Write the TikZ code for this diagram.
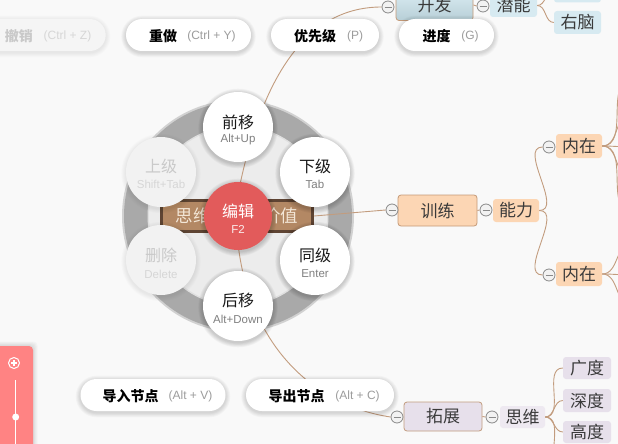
\documentclass[tikz,border=0pt]{standalone}
\usepackage{fontspec}
\setmainfont{Liberation Sans}
\newfontfamily\cjk{Noto Sans CJK SC}
\definecolor{bgc}{HTML}{F9F9F9}
\definecolor{linkc}{HTML}{C29C7E}
\definecolor{peach}{HTML}{FCD6B4}
\definecolor{peachb}{HTML}{C49A78}
\definecolor{lav}{HTML}{E7E0EB}
\definecolor{lavb}{HTML}{C29C7E}
\definecolor{blueA}{HTML}{DCEDF3}
\definecolor{blueB}{HTML}{B7CFD7}
\definecolor{blueL}{HTML}{D7EAF1}
\definecolor{redc}{HTML}{E25B5B}
\definecolor{ringc}{HTML}{A9A9A9}
\definecolor{diskc}{HTML}{ECECEC}
\definecolor{rootf}{HTML}{B38864}
\definecolor{rootb}{HTML}{5E4433}
\definecolor{roott}{HTML}{F3E6D6}
\definecolor{sliderc}{HTML}{FF8383}
\definecolor{keyc}{HTML}{9C9C9C}
\definecolor{fadec}{HTML}{C9C9C9}
\definecolor{fadesub}{HTML}{D6D6D6}
\definecolor{mmtext}{HTML}{3A3A3A}
\definecolor{colline}{HTML}{8A8A8A}
\definecolor{colfill}{HTML}{F2F2F2}
% soft shadow helpers
\newcommand\softcirc[4]{% x, y, radius, opacity
  \foreach \k in {1,...,6}{\pgfmathsetmacro\rr{#3+0.8*\k}\fill[black, opacity=#4] (#1,#2+1.5) circle (\rr);}}
\newcommand\softpill[5]{% x1, y1, x2, y2, opacity
  \foreach \k in {1,...,6}{\pgfmathsetmacro\dd{0.8*\k}\pgfmathsetmacro\rc{16+0.8*\k}%
    \fill[black, opacity=#5, rounded corners=\rc pt] (#1-\dd,#2-\dd+1.5) rectangle (#3+\dd,#4+\dd+1.5);}}
\begin{document}
\begin{tikzpicture}[x=1pt,y=-1pt,
  link/.style={draw=linkc, line width=0.9pt},
  mm/.style={inner sep=0pt, rounded corners=3pt, text=mmtext, font=\cjk\fontsize{17}{20}\selectfont},
  colc/.style={circle, draw=colline, fill=colfill, line width=0.8pt, minimum size=12pt, inner sep=0pt,
    path picture={\draw[colline, line width=0.9pt] ([xshift=-3.5pt]path picture bounding box.center) -- ([xshift=3.5pt]path picture bounding box.center);}},
  pill/.style={rounded corners=16pt, fill=white, minimum height=32pt, inner sep=0pt},
  pkey/.style={inner sep=0pt, text=black, font=\cjk\bfseries\fontsize{14}{16}\selectfont},
  pshort/.style={inner sep=0pt, text=keyc, font=\fontsize{12}{14}\selectfont},
  wcirc/.style={circle, fill=white, minimum size=70pt, inner sep=0pt},
  fcirc/.style={circle, fill=white!95!black, minimum size=70pt, inner sep=0pt},
  wmain/.style={inner sep=0pt, text=black!90, font=\cjk\fontsize{16}{18}\selectfont},
  wsub/.style={inner sep=0pt, text=black!50, font=\fontsize{11.5}{13}\selectfont},
]
\useasboundingbox (0,0) rectangle (618,444);
% ---------- background and wheel ring ----------
\fill[bgc] (0,0) rectangle (618,444);
\fill[ringc!50!bgc] (238,216) circle (116);
\fill[ringc] (238,216) circle (114);
\fill[diskc!80!ringc] (238,216) circle (90.5);
\fill[diskc] (238,216) circle (89);

% ---------- mind map nodes ----------
\node[draw=rootb, line width=3pt, fill=rootf, minimum width=151pt, minimum height=31pt, inner sep=0pt,
      text=roott, font=\cjk\fontsize{17.5}{20}\selectfont] (root) at (237,216) {思维\hspace{3em}价值};

\node[mm, draw=peachb, line width=0.8pt, top color=blueA, bottom color=blueB, minimum width=77pt, minimum height=31pt] (kf) at (434.5,5) {开发};
\node[colc] (kfc) at (388,7) {};
\node[mm, fill=blueL, minimum width=47pt, minimum height=23pt] (qn) at (513.5,5.5) {潜能};
\node[colc] (qnc) at (483,6) {};
\node[mm, fill=blueL, minimum width=47pt, minimum height=23pt] (yn) at (577.5,22.5) {右脑};
\node[mm, fill=blueL, minimum width=47pt, minimum height=23pt] (ytop) at (577.5,-9) {};

\node[mm, draw=peachb, line width=0.8pt, fill=peach, minimum width=79pt, minimum height=31pt] (xl) at (437.5,210.5) {训练};
\node[colc] (xlc) at (392,210) {};
\node[mm, fill=peach, minimum width=46pt, minimum height=23pt] (nl) at (516,210.5) {能力};
\node[colc] (nlc) at (486,210) {};
\node[mm, fill=peach, minimum width=46pt, minimum height=24pt] (nz1) at (579,146) {内在};
\node[colc] (nz1c) at (549,147) {};
\node[mm, fill=peach, minimum width=46pt, minimum height=24pt] (nz2) at (579,274) {内在};
\node[colc] (nz2c) at (549,275) {};

\node[mm, draw=lavb, line width=0.8pt, fill=lav, minimum width=78pt, minimum height=29pt] (tz) at (443,416.5) {拓展};
\node[colc] (tzc) at (397,417) {};
\node[mm, fill=lav!70!white, minimum width=45pt, minimum height=22pt] (sw) at (522.5,417) {思维};
\node[colc] (swc) at (492,417) {};
\node[mm, fill=lav, minimum width=48pt, minimum height=22pt] (gd) at (587,368) {广度};
\node[mm, fill=lav, minimum width=48pt, minimum height=23pt] (sd) at (587,400.5) {深度};
\node[mm, fill=lav, minimum width=48pt, minimum height=22pt] (hd) at (587,432) {高度};

\coordinate (r1) at (632,80);
\coordinate (r2) at (632,112);
\coordinate (r3) at (632,147);
\coordinate (r4) at (632,180);
\coordinate (r5) at (632,212);
\coordinate (r6) at (632,243);
\coordinate (r7) at (632,275);
\coordinate (r8) at (632,306);
\coordinate (b1) at (563,470);

% ---------- connectors ----------
\draw[link] (root.north) .. controls (262,70) and (310,7) .. (kfc.west);
\draw[link] (root.south) .. controls (245,340) and (310,405) .. (tzc.west);
\draw[link] (root.east) -- (xlc.west);
\draw[link] (kf.east) -- (qnc.west);
\draw[link] (qn.east) to[out=0,in=180] (yn.west);
\draw[link] (qn.east) to[out=0,in=180] (ytop.west);
\draw[link] (xl.east) -- (nlc.west);
\draw[link] (nl.east) to[out=0,in=180] (nz1c.west);
\draw[link] (nl.east) to[out=0,in=180] (nz2c.west);
\foreach \t in {r1,r2,r3,r4,r5} \draw[link] (nz1.east) to[out=0,in=180] (\t);
\foreach \t in {r6,r7,r8} \draw[link] (nz2.east) to[out=0,in=180] (\t);
\draw[link] (tz.east) -- (swc.west);
\foreach \t in {gd,sd,hd} \draw[link] (sw.east) to[out=0,in=180] (\t.west);
\draw[link] (sw.east) to[out=0,in=180] (b1);

% ---------- toolbar pills ----------
\softpill{-40}{19}{105.7}{51}{0.012}
\fill[white!96!black, rounded corners=16pt] (-40,19) rectangle (105.7,51);
\coordinate (pa) at (43,35);
\node[pkey, text=fadec] (pa1) at (19,36) {撤销};
\node[pshort, text=fadesub] (pa2) at (67.5,36) {(Ctrl + Z)};
\softpill{126}{19}{251}{51}{0.022}
\node[pill, minimum width=125pt] (pb) at (188.5,35) {};
\node[pkey] (pb1) at (163,36) {重做};
\node[pshort] (pb2) at (211.5,36) {(Ctrl + Y)};
\softpill{271}{19}{379}{51}{0.022}
\node[pill, minimum width=108pt] (pc) at (325,35) {};
\node[pkey] (pc1) at (315,36) {优先级};
\node[pshort] (pc2) at (355,36) {(P)};
\softpill{399}{19}{494}{51}{0.022}
\node[pill, minimum width=95pt] (pd) at (446.5,35) {};
\node[pkey] (pd1) at (436.5,36) {进度};
\node[pshort] (pd2) at (470,36) {(G)};

\softpill{80.5}{379}{225.5}{411}{0.022}
\node[pill, minimum width=145pt] (pe) at (153,395) {};
\node[pkey] (pe1) at (130.5,396) {导入节点};
\node[pshort] (pe2) at (190.5,396) {(Alt + V)};
\softpill{246}{379}{394}{411}{0.022}
\node[pill, minimum width=148pt] (pf) at (320,395) {};
\node[pkey] (pf1) at (296.5,396) {导出节点};
\node[pshort] (pf2) at (357.5,396) {(Alt + C)};

% ---------- zoom slider ----------
\foreach \k in {1,...,5}{\pgfmathsetmacro\dd{0.9*\k}\fill[black, opacity=0.025, rounded corners=4pt] (-10,346-\dd) rectangle (33+\dd,450);}
\node[rounded corners=4pt, fill=sliderc, minimum width=43pt, minimum height=108pt, inner sep=0pt] (sl) at (11.5,400) {};
\node[circle, draw=white, line width=1pt, minimum size=11pt, inner sep=0pt,
      path picture={\draw[white, line width=1.2pt] ([xshift=-3pt]path picture bounding box.center) -- ([xshift=3pt]path picture bounding box.center)
      ([yshift=-3pt]path picture bounding box.center) -- ([yshift=3pt]path picture bounding box.center);}] (zin) at (14,363) {};
\coordinate (trackend) at (15.7,446);
\coordinate (trackstart) at (15.7,380);
\draw[white, line width=1.4pt] (trackstart) -- (trackend);
\node[circle, fill=white, minimum size=7pt, inner sep=0pt] (knob) at (15.7,417) {};

% ---------- wheel ----------
\softcirc{238}{127}{35}{0.03}
\node[wcirc] (cqy) at (238,127) {};
\node[wmain] (tqy) at (238,122) {前移};
\node[wsub] (sqy) at (238,140) {Alt+Up};
\softcirc{315}{172}{35}{0.03}
\node[wcirc] (cxj) at (315,172) {};
\node[wmain] (txj) at (315,166) {下级};
\node[wsub] (sxj) at (315,184) {Tab};
\softcirc{315}{260}{35}{0.03}
\node[wcirc] (ctj) at (315,260) {};
\node[wmain] (ttj) at (315,255) {同级};
\node[wsub] (stj) at (315,274) {Enter};
\softcirc{238}{306}{35}{0.03}
\node[wcirc] (chy) at (238,306) {};
\node[wmain] (thy) at (238,300) {后移};
\node[wsub] (shy) at (238,319) {Alt+Down};
\softcirc{161}{260}{35}{0.012}
\node[fcirc] (csc) at (161,260) {};
\node[wmain, text=fadec] (tsc) at (161,255) {删除};
\node[wsub, text=fadesub] (ssc) at (161,274) {Delete};
\softcirc{161}{172}{35}{0.012}
\node[fcirc] (csj) at (161,172) {};
\node[wmain, text=fadec] (tsj) at (161,166) {上级};
\node[wsub, text=fadesub] (ssj) at (161,184) {Shift+Tab};
\softcirc{238}{216}{34}{0.03}
\node[circle, fill=redc, minimum size=68pt, inner sep=0pt] (cbj) at (238,216) {};
\node[wmain, text=white] (tbj) at (238,211) {编辑};
\node[wsub, text=white!88!redc] (sbj) at (238,229) {F2};
\end{tikzpicture}
\end{document}
